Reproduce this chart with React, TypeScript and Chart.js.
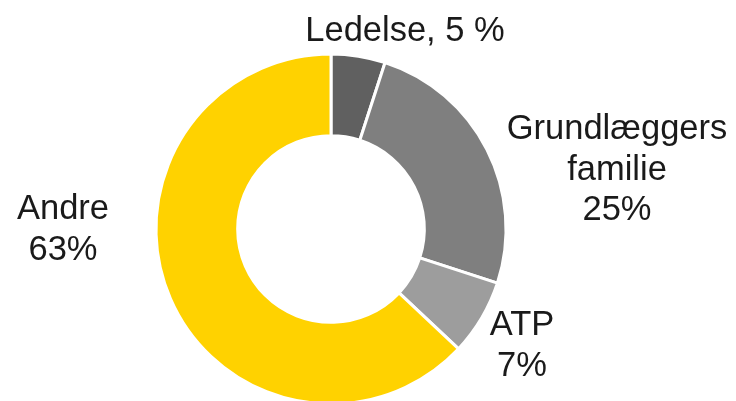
import React, { useEffect, useRef } from "react";
import { Chart, registerables } from "chart.js";

Chart.register(...registerables);

const categories = ["Ledelse", "Grundlæggers familie", "ATP", "Andre"];
const shares = [5, 25, 7, 63];
const labelLines = [
  ["Ledelse, 5 %"],
  ["Grundlæggers", "familie", "25%"],
  ["ATP", "7%"],
  ["Andre", "63%"],
];
const colors = ["#606060", "#7f7f7f", "#9d9d9d", "#ffd200"];
// label anchor offsets relative to the chart centre (x centre, first baseline)
const labelOffsets = [
  [74, -188],
  [286, -90],
  [191, 106],
  [-268, -10],
];

const W = 736;
const H = 420;

export default function App() {
  const ref = useRef<HTMLCanvasElement | null>(null);

  useEffect(() => {
    const canvas = ref.current;
    if (!canvas) return;

    const labelPlugin = {
      id: "sliceLabels",
      afterDraw(chart: any) {
        const meta = chart.getDatasetMeta(0);
        const arc = meta.data[0];
        if (!arc) return;
        const cx = arc.x;
        const cy = arc.y;
        const ctx = chart.ctx;
        ctx.save();
        ctx.font = '34.5px "Liberation Sans", Arial, sans-serif';
        ctx.fillStyle = "#1a1a1a";
        ctx.textAlign = "center";
        ctx.textBaseline = "alphabetic";
        const lh = 40.5;
        labelLines.forEach((lines, i) => {
          const [dx, dy] = labelOffsets[i];
          lines.forEach((t, j) => {
            ctx.fillText(t, cx + dx, cy + dy + j * lh);
          });
        });
        ctx.restore();
      },
    };

    const chart = new Chart(canvas, {
      type: "doughnut",
      data: {
        labels: categories,
        datasets: [
          {
            data: shares,
            backgroundColor: colors,
            borderColor: "#ffffff",
            borderWidth: 3,
            hoverOffset: 0,
            offset: 0,
            clip: false as any,
          } as any,
        ],
      },
      options: {
        responsive: false,
        animation: false,
        events: [],
        cutout: 92,
        radius: 175,
        layout: { padding: { left: 157, right: 231, top: 55, bottom: H - 403 } },
        plugins: {
          legend: { display: false },
          tooltip: { enabled: false },
          title: { display: false },
        },
      } as any,
      plugins: [labelPlugin],
    });

    return () => chart.destroy();
  }, []);

  return (
    <div style={{ position: "fixed", left: 0, top: 0, width: W, height: H, background: "#fff" }}>
      <canvas ref={ref} width={W} height={H} style={{ display: "block", width: W, height: H }} />
    </div>
  );
}
